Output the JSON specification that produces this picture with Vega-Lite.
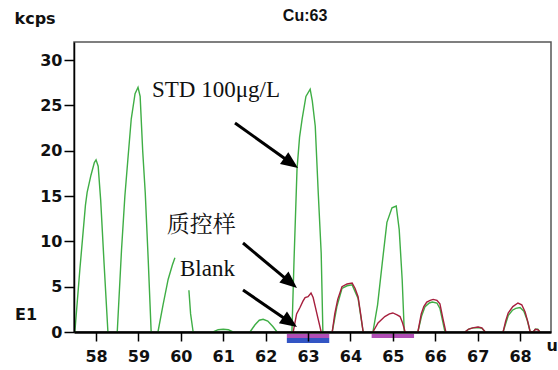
{
  "$schema": "https://vega.github.io/schema/vega-lite/v6.json",
  "autosize": "none",
  "width": 477,
  "height": 290,
  "padding": {"left": 74, "top": 42, "right": 7, "bottom": 38},
  "background": "white",
  "config": {
    "view": {"stroke": "#555", "strokeWidth": 1.5},
    "axis": {
      "grid": false,
      "domainColor": "#000",
      "tickColor": "#000",
      "tickWidth": 1.5,
      "tickSize": 9,
      "labelFont": "DejaVu Sans",
      "labelFontWeight": "bold",
      "labelFontSize": 16,
      "labelColor": "#111",
      "titleFont": "DejaVu Sans",
      "titleFontWeight": "bold",
      "titleFontSize": 16,
      "titleColor": "#111"
    }
  },
  "datasets": {
    "std": [
      {"x": 57.50, "y": 0, "seg": "a"}, {"x": 57.62, "y": 7, "seg": "a"}, {"x": 57.75, "y": 14, "seg": "a"}, {"x": 57.79, "y": 15.4, "seg": "a"}, {"x": 57.88, "y": 17.3, "seg": "a"}, {"x": 57.96, "y": 18.7, "seg": "a"}, {"x": 58.00, "y": 19.0, "seg": "a"}, {"x": 58.05, "y": 18.3, "seg": "a"}, {"x": 58.11, "y": 14.5, "seg": "a"}, {"x": 58.19, "y": 7.5, "seg": "a"}, {"x": 58.28, "y": 0, "seg": "a"},
      {"x": 58.50, "y": 0, "seg": "b"}, {"x": 58.60, "y": 9, "seg": "b"}, {"x": 58.68, "y": 15, "seg": "b"}, {"x": 58.75, "y": 19, "seg": "b"}, {"x": 58.83, "y": 23.5, "seg": "b"}, {"x": 58.92, "y": 26.3, "seg": "b"}, {"x": 58.99, "y": 27.0, "seg": "b"}, {"x": 59.04, "y": 26, "seg": "b"}, {"x": 59.10, "y": 20, "seg": "b"}, {"x": 59.16, "y": 15.4, "seg": "b"}, {"x": 59.23, "y": 8, "seg": "b"}, {"x": 59.30, "y": 0, "seg": "b"},
      {"x": 59.46, "y": 0, "seg": "c"}, {"x": 59.58, "y": 3, "seg": "c"}, {"x": 59.70, "y": 5.8, "seg": "c"}, {"x": 59.80, "y": 7.4, "seg": "c"}, {"x": 59.86, "y": 8.2, "seg": "c"},
      {"x": 60.19, "y": 4.6, "seg": "d"}, {"x": 60.23, "y": 2.0, "seg": "d"}, {"x": 60.29, "y": 0, "seg": "d"},
      {"x": 60.76, "y": 0, "seg": "e"}, {"x": 60.88, "y": 0.25, "seg": "e"}, {"x": 61.00, "y": 0.3, "seg": "e"}, {"x": 61.12, "y": 0.25, "seg": "e"}, {"x": 61.23, "y": 0, "seg": "e"},
      {"x": 61.63, "y": 0, "seg": "f"}, {"x": 61.75, "y": 0.8, "seg": "f"}, {"x": 61.85, "y": 1.3, "seg": "f"}, {"x": 61.94, "y": 1.4, "seg": "f"}, {"x": 62.05, "y": 1.2, "seg": "f"}, {"x": 62.17, "y": 0.6, "seg": "f"}, {"x": 62.27, "y": 0, "seg": "f"},
      {"x": 62.62, "y": 0, "seg": "g"}, {"x": 62.67, "y": 8, "seg": "g"}, {"x": 62.74, "y": 18, "seg": "g"}, {"x": 62.80, "y": 21.5, "seg": "g"}, {"x": 62.86, "y": 23.5, "seg": "g"}, {"x": 62.95, "y": 26, "seg": "g"}, {"x": 63.05, "y": 26.8, "seg": "g"}, {"x": 63.10, "y": 25.5, "seg": "g"}, {"x": 63.17, "y": 22.7, "seg": "g"}, {"x": 63.24, "y": 15.4, "seg": "g"}, {"x": 63.31, "y": 8.7, "seg": "g"}, {"x": 63.35, "y": 0, "seg": "g"},
      {"x": 63.57, "y": 0, "seg": "h"}, {"x": 63.68, "y": 2.8, "seg": "h"}, {"x": 63.80, "y": 4.8, "seg": "h"}, {"x": 63.92, "y": 5.1, "seg": "h"}, {"x": 64.04, "y": 5.2, "seg": "h"}, {"x": 64.18, "y": 3.7, "seg": "h"}, {"x": 64.30, "y": 0, "seg": "h"},
      {"x": 64.53, "y": 0, "seg": "i"}, {"x": 64.64, "y": 3, "seg": "i"}, {"x": 64.75, "y": 7.6, "seg": "i"}, {"x": 64.86, "y": 12.1, "seg": "i"}, {"x": 64.98, "y": 13.7, "seg": "i"}, {"x": 65.08, "y": 13.9, "seg": "i"}, {"x": 65.15, "y": 11.3, "seg": "i"}, {"x": 65.22, "y": 5.8, "seg": "i"}, {"x": 65.27, "y": 0, "seg": "i"},
      {"x": 65.59, "y": 0, "seg": "j"}, {"x": 65.68, "y": 1.8, "seg": "j"}, {"x": 65.76, "y": 2.8, "seg": "j"}, {"x": 65.86, "y": 3.2, "seg": "j"}, {"x": 65.93, "y": 3.3, "seg": "j"}, {"x": 66.04, "y": 3.2, "seg": "j"}, {"x": 66.11, "y": 2.6, "seg": "j"}, {"x": 66.23, "y": 0, "seg": "j"},
      {"x": 66.70, "y": 0, "seg": "k"}, {"x": 66.80, "y": 0.35, "seg": "k"}, {"x": 66.90, "y": 0.45, "seg": "k"}, {"x": 67.01, "y": 0.5, "seg": "k"}, {"x": 67.10, "y": 0.4, "seg": "k"}, {"x": 67.18, "y": 0, "seg": "k"},
      {"x": 67.60, "y": 0, "seg": "l"}, {"x": 67.72, "y": 1.8, "seg": "l"}, {"x": 67.82, "y": 2.4, "seg": "l"}, {"x": 67.90, "y": 2.6, "seg": "l"}, {"x": 68.00, "y": 2.7, "seg": "l"}, {"x": 68.09, "y": 2.3, "seg": "l"}, {"x": 68.17, "y": 1.3, "seg": "l"}, {"x": 68.24, "y": 0, "seg": "l"}, {"x": 68.31, "y": 0, "seg": "l"}, {"x": 68.36, "y": 0.3, "seg": "l"}, {"x": 68.42, "y": 0.3, "seg": "l"}, {"x": 68.47, "y": 0, "seg": "l"}
    ],
    "qc": [
      {"x": 62.65, "y": 0, "seg": "a"}, {"x": 62.73, "y": 2.0, "seg": "a"}, {"x": 62.81, "y": 2.7, "seg": "a"}, {"x": 62.88, "y": 3.4, "seg": "a"}, {"x": 62.93, "y": 3.8, "seg": "a"}, {"x": 63.00, "y": 3.9, "seg": "a"}, {"x": 63.07, "y": 4.3, "seg": "a"}, {"x": 63.12, "y": 3.8, "seg": "a"}, {"x": 63.17, "y": 2.8, "seg": "a"}, {"x": 63.24, "y": 1.4, "seg": "a"}, {"x": 63.31, "y": 0, "seg": "a"},
      {"x": 63.57, "y": 0, "seg": "b"}, {"x": 63.63, "y": 2.0, "seg": "b"}, {"x": 63.70, "y": 3.6, "seg": "b"}, {"x": 63.80, "y": 5.0, "seg": "b"}, {"x": 63.92, "y": 5.3, "seg": "b"}, {"x": 64.04, "y": 5.4, "seg": "b"}, {"x": 64.11, "y": 4.8, "seg": "b"}, {"x": 64.18, "y": 3.9, "seg": "b"}, {"x": 64.24, "y": 2.0, "seg": "b"}, {"x": 64.30, "y": 0, "seg": "b"},
      {"x": 64.53, "y": 0, "seg": "c"}, {"x": 64.65, "y": 1.0, "seg": "c"}, {"x": 64.81, "y": 1.7, "seg": "c"}, {"x": 64.92, "y": 2.0, "seg": "c"}, {"x": 65.00, "y": 2.1, "seg": "c"}, {"x": 65.10, "y": 1.9, "seg": "c"}, {"x": 65.17, "y": 1.7, "seg": "c"}, {"x": 65.23, "y": 1.0, "seg": "c"}, {"x": 65.29, "y": 0, "seg": "c"},
      {"x": 65.59, "y": 0, "seg": "d"}, {"x": 65.67, "y": 2.0, "seg": "d"}, {"x": 65.73, "y": 2.8, "seg": "d"}, {"x": 65.80, "y": 3.3, "seg": "d"}, {"x": 65.88, "y": 3.5, "seg": "d"}, {"x": 65.95, "y": 3.6, "seg": "d"}, {"x": 66.04, "y": 3.5, "seg": "d"}, {"x": 66.11, "y": 3.1, "seg": "d"}, {"x": 66.18, "y": 1.5, "seg": "d"}, {"x": 66.25, "y": 0, "seg": "d"},
      {"x": 66.70, "y": 0, "seg": "e"}, {"x": 66.78, "y": 0.3, "seg": "e"}, {"x": 66.88, "y": 0.45, "seg": "e"}, {"x": 67.01, "y": 0.55, "seg": "e"}, {"x": 67.10, "y": 0.45, "seg": "e"}, {"x": 67.18, "y": 0, "seg": "e"},
      {"x": 67.60, "y": 0, "seg": "f"}, {"x": 67.66, "y": 1.2, "seg": "f"}, {"x": 67.72, "y": 2.1, "seg": "f"}, {"x": 67.83, "y": 2.8, "seg": "f"}, {"x": 67.95, "y": 3.2, "seg": "f"}, {"x": 68.04, "y": 3.0, "seg": "f"}, {"x": 68.12, "y": 2.2, "seg": "f"}, {"x": 68.19, "y": 1.0, "seg": "f"}, {"x": 68.24, "y": 0, "seg": "f"}, {"x": 68.31, "y": 0, "seg": "f"}, {"x": 68.36, "y": 0.3, "seg": "f"}, {"x": 68.42, "y": 0.25, "seg": "f"}, {"x": 68.47, "y": 0, "seg": "f"}
    ],
    "windows": [
      {"x1": 62.5, "x2": 63.5, "y1": -0.22, "y2": -0.66, "kind": "peak"},
      {"x1": 62.5, "x2": 63.5, "y1": -0.66, "y2": -1.22, "kind": "blank"},
      {"x1": 64.5, "x2": 65.5, "y1": -0.22, "y2": -0.66, "kind": "peak"}
    ],
    "arrows": [
      {"x1": 61.277, "y1": 23.06, "x2": 62.532, "y2": 18.87, "tx": 62.763, "ty": 18.10, "angle": 35.5},
      {"x1": 61.466, "y1": 9.82, "x2": 62.522, "y2": 5.70, "tx": 62.739, "ty": 4.86, "angle": 39.8},
      {"x1": 61.466, "y1": 4.63, "x2": 62.506, "y2": 1.30, "tx": 62.739, "ty": 0.55, "angle": 34.4}
    ],
    "labels": [
      {"x": 59.32, "y": 25.93, "text": "STD 100μg/L"},
      {"x": 59.67, "y": 11.0, "text": "质控样"},
      {"x": 59.98, "y": 6.18, "text": "Blank"}
    ],
    "side": [
      {"x": 56.09, "y": 1.32, "text": "E1", "align": "left"},
      {"x": 62.93, "y": 34.32, "text": "Cu:63", "align": "center"}
    ]
  },
  "layer": [
    {
      "data": {"name": "windows"},
      "mark": {"type": "rect"},
      "encoding": {
        "x": {"field": "x1", "type": "quantitative", "scale": {"domain": [57.48, 68.73], "nice": false, "zero": false},
          "axis": {"values": [58, 59, 60, 61, 62, 63, 64, 65, 66, 67, 68], "domainWidth": 2.5, "labelPadding": 7, "zindex": 1,
            "title": "u", "titleX": 472, "titleY": 13, "titleAlign": "left", "titleBaseline": "middle", "titleAnchor": null}},
        "x2": {"field": "x2"},
        "y": {"field": "y1", "type": "quantitative", "scale": {"domain": [0, 32], "nice": false, "zero": false},
          "axis": {"values": [0, 5, 10, 15, 20, 25, 30], "domainWidth": 1.5, "tickSize": 10, "labelPadding": 2, "zindex": 1,
            "title": "kcps", "titleAngle": 0, "titleX": -60, "titleY": -19, "titleAlign": "left", "titleBaseline": "alphabetic"}},
        "y2": {"field": "y2"},
        "color": {"field": "kind", "type": "nominal", "scale": {"domain": ["peak", "blank"], "range": ["#b14db5", "#3355c4"]}, "legend": null}
      }
    },
    {
      "data": {"name": "std"},
      "mark": {"type": "line", "color": "#3fae45", "strokeWidth": 1.4},
      "encoding": {
        "x": {"field": "x", "type": "quantitative"},
        "y": {"field": "y", "type": "quantitative"},
        "detail": {"field": "seg", "type": "nominal"}
      }
    },
    {
      "data": {"name": "qc"},
      "mark": {"type": "line", "color": "#a61f3d", "strokeWidth": 1.4},
      "encoding": {
        "x": {"field": "x", "type": "quantitative"},
        "y": {"field": "y", "type": "quantitative"},
        "detail": {"field": "seg", "type": "nominal"}
      }
    },
    {
      "data": {"name": "arrows"},
      "mark": {"type": "rule", "color": "#000", "strokeWidth": 3},
      "encoding": {
        "x": {"field": "x1", "type": "quantitative"},
        "y": {"field": "y1", "type": "quantitative"},
        "x2": {"field": "x2"},
        "y2": {"field": "y2"}
      }
    },
    {
      "data": {"name": "arrows"},
      "mark": {"type": "point", "shape": "M0,0L-1,-0.42L-1,0.42Z", "filled": true, "color": "#000", "opacity": 1, "size": 1156, "strokeWidth": 0},
      "encoding": {
        "x": {"field": "tx", "type": "quantitative"},
        "y": {"field": "ty", "type": "quantitative"},
        "angle": {"field": "angle", "type": "quantitative", "scale": null}
      }
    },
    {
      "data": {"name": "labels"},
      "mark": {"type": "text", "align": "left", "baseline": "alphabetic", "font": "Liberation Serif, Noto Serif CJK SC, Noto Sans CJK SC", "fontSize": 23, "color": "#111"},
      "encoding": {
        "x": {"field": "x", "type": "quantitative"},
        "y": {"field": "y", "type": "quantitative"},
        "text": {"field": "text"}
      }
    },
    {
      "data": {"name": "side"},
      "transform": [{"filter": "datum.align === 'left'"}],
      "mark": {"type": "text", "align": "left", "baseline": "alphabetic", "font": "DejaVu Sans", "fontWeight": "bold", "fontSize": 16, "color": "#111"},
      "encoding": {
        "x": {"field": "x", "type": "quantitative"},
        "y": {"field": "y", "type": "quantitative"},
        "text": {"field": "text"}
      }
    },
    {
      "data": {"name": "side"},
      "transform": [{"filter": "datum.align === 'center'"}],
      "mark": {"type": "text", "align": "center", "baseline": "alphabetic", "font": "Liberation Sans", "fontWeight": "bold", "fontSize": 16, "color": "#111"},
      "encoding": {
        "x": {"field": "x", "type": "quantitative"},
        "y": {"field": "y", "type": "quantitative"},
        "text": {"field": "text"}
      }
    }
  ]
}
